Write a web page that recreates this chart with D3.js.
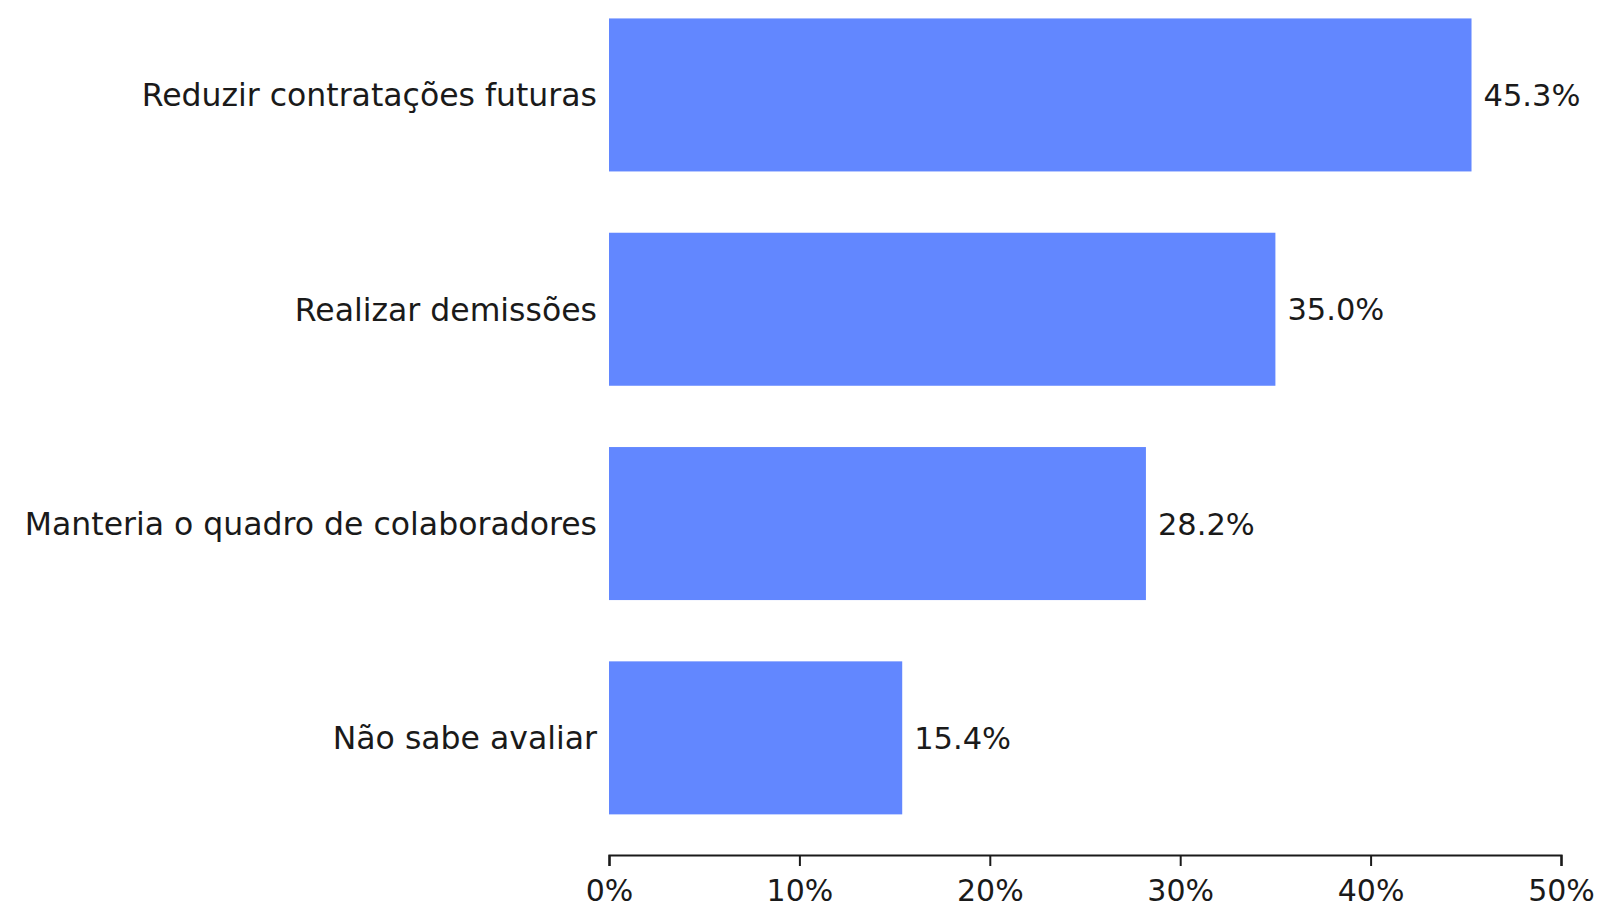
<!DOCTYPE html>
<html><head><meta charset="utf-8">
<script src="https://cdn.jsdelivr.net/npm/d3@7"></script>
<style>
html,body{margin:0;padding:0;background:#fff;}
text{font-family:"DejaVu Sans",sans-serif;fill:#1a1a1a;}
</style></head>
<body>
<svg id="chart" width="1600" height="906"></svg>
<script>
const categories = ["Reduzir contratações futuras","Realizar demissões","Manteria o quadro de colaboradores","Não sabe avaliar"];
const values = [45.3, 35.0, 28.2, 15.4];
const xTicks = [0, 10, 20, 30, 40, 50];

(function(){
const svg = d3.select("#chart");
const mLeft = 609, mRight = 1561, mTop = -3, mBottom = 835.8;
const x = d3.scaleLinear().domain([0, 50]).range([mLeft, mRight]);
const y = d3.scaleBand().domain(categories).range([mTop, mBottom]).paddingInner(0.286).paddingOuter(0.1);

svg.selectAll("rect.bar").data(values).enter().append("rect")
  .attr("class","bar")
  .attr("x", x(0))
  .attr("y", (d,i)=>y(categories[i]))
  .attr("width", d=>x(d)-x(0))
  .attr("height", y.bandwidth())
  .attr("fill", "#6287ff");

svg.selectAll("text.val").data(values).enter().append("text")
  .attr("class","val")
  .attr("x", d=>x(d)+12)
  .attr("y", (d,i)=>y(categories[i])+y.bandwidth()/2)
  .attr("dy","0.36em")
  .attr("font-size", 30.5)
  .text(d=>d.toFixed(1)+"%");

svg.selectAll("text.cat").data(categories).enter().append("text")
  .attr("class","cat")
  .attr("x", mLeft-12)
  .attr("y", d=>y(d)+y.bandwidth()/2)
  .attr("dy","0.36em")
  .attr("text-anchor","end")
  .attr("font-size", 31.5)
  .text(d=>d);

const axis = d3.axisBottom(x).tickValues(xTicks).tickFormat(d=>d+"%").tickSize(11).tickPadding(14);
const g = svg.append("g").attr("transform", "translate(0,855)").call(axis);
g.select(".domain").attr("stroke","#1a1a1a").attr("stroke-width",2.2);
g.selectAll(".tick line").attr("stroke","#1a1a1a").attr("stroke-width",2);
g.selectAll(".tick text").attr("font-size",30).attr("font-family","DejaVu Sans").attr("fill","#1a1a1a");
})();
</script>
</body></html>
